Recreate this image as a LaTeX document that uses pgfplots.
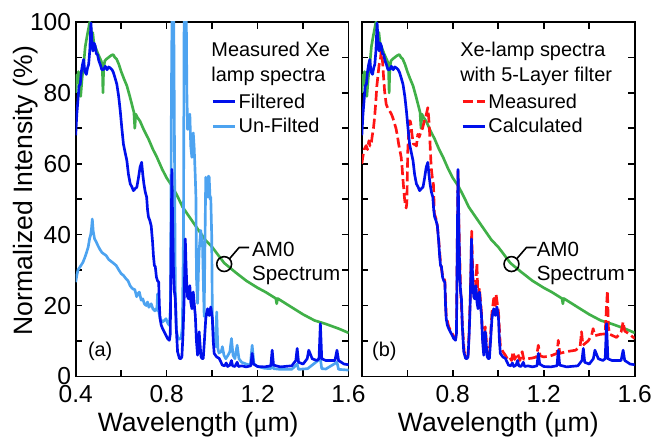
\documentclass[border=0pt]{standalone}
\usepackage{fontspec}
\setmainfont{Liberation Sans}
\newfontfamily\serifmu{Liberation Serif}
\usepackage{pgfplots}
\usepackage{pgfplotstable}
\pgfplotsset{compat=1.18}

\definecolor{amgreen}{RGB}{64,176,72}
\definecolor{filtblue}{RGB}{0,16,235}
\definecolor{unfblue}{RGB}{77,163,240}
\definecolor{measred}{RGB}{255,20,20}

% AM0 reference spectrum (same in both panels)
\pgfplotstableread{
x y
0.400 80
0.404 85
0.408 83
0.412 86
0.417 80
0.422 79
0.428 84
0.435 88
0.442 93
0.450 96
0.456 98
0.462 100
0.466 99
0.470 96
0.475 97
0.480 94
0.486 93
0.492 92
0.498 91
0.505 90
0.512 89
0.517 88
0.520 80
0.523 87
0.528 89
0.535 89.5
0.545 90
0.555 90.5
0.565 90.8
0.572 90
0.580 89.5
0.590 88
0.600 86
0.612 84
0.625 82
0.638 79
0.650 76
0.656 74.5
0.660 70
0.664 74
0.672 73
0.683 72
0.700 69.5
0.720 67
0.740 64
0.756 62
0.780 58.5
0.800 56
0.826 53.5
0.850 50.5
0.870 47.8
0.900 45
0.943 41
0.970 38.5
1.000 36.5
1.053 32
1.100 29.5
1.150 27
1.200 25
1.235 23.8
1.280 22
1.284 20.5
1.288 22
1.350 19.5
1.400 17.5
1.450 15.8
1.500 14.8
1.556 13.5
1.600 12.3
}\amzero

% filtered lamp spectrum (also the calculated curve of panel b)
\pgfplotstableread{
x y
0.400 68
0.405 74
0.410 78
0.415 82
0.420 82.4
0.425 86
0.430 88
0.435 89.4
0.440 86
0.447 85.2
0.452 87
0.457 88
0.462 92
0.467 99.7
0.471 95
0.476 91.8
0.481 94
0.486 93.2
0.491 91
0.496 90.8
0.502 89
0.508 88
0.515 86.5
0.523 86.6
0.530 87.5
0.538 86.5
0.545 87.3
0.552 87
0.560 86.5
0.566 85.7
0.574 84
0.581 82.4
0.589 79
0.596 74.9
0.603 70
0.610 65.5
0.618 63
0.625 60.9
0.632 57
0.640 54.3
0.647 53.5
0.654 52.4
0.662 53
0.669 53.4
0.676 56
0.683 59
0.690 60.4
0.695 57
0.700 54.3
0.706 52
0.712 50.6
0.716 47
0.720 45
0.726 44
0.732 42.5
0.738 38
0.742 34
0.746 31.3
0.750 31
0.755 28
0.760 27
0.765 26.6
0.768 20
0.771 16.3
0.776 14.5
0.782 13.5
0.790 12.5
0.798 11.5
0.804 10.7
0.812 10.2
0.816 12
0.820 40
0.823 58.4
0.826 45
0.830 30
0.834 24
0.838 21.9
0.842 14
0.848 7
0.856 5.1
0.862 5
0.867 5.5
0.872 12
0.877 21.9
0.882 38.8
0.885 32
0.888 26.7
0.892 22.5
0.896 21.9
0.902 25.6
0.906 21
0.911 19.1
0.917 23.8
0.922 20
0.926 17.2
0.931 10
0.936 6
0.940 9
0.943 12.6
0.947 9
0.951 5.6
0.956 5
0.961 5.1
0.966 10
0.972 16.3
0.976 18
0.980 19.1
0.987 17.2
0.994 19.6
1.001 16.3
1.005 10
1.009 6.5
1.020 5.5
1.031 5.1
1.045 3.2
1.055 3
1.062 3.8
1.068 2.8
1.078 3.2
1.085 4.5
1.090 3
1.100 2.8
1.110 4
1.116 2.8
1.130 3
1.150 2.7
1.170 3
1.176 6.5
1.182 3.5
1.200 2.8
1.230 2.7
1.258 3
1.264 7.4
1.270 3.2
1.300 2.7
1.350 3
1.368 4.5
1.374 7.9
1.380 4
1.400 3.5
1.418 5
1.425 7.4
1.440 5
1.460 4.5
1.470 5
1.476 14.9
1.482 5
1.500 4.5
1.540 4.5
1.549 7.4
1.556 4.5
1.580 3.5
1.600 3.3
}\filtered

% un-filtered lamp spectrum
\pgfplotstableread{
x y
0.400 26.6
0.405 28.5
0.410 30
0.420 31
0.432 32.2
0.440 33.5
0.448 35
0.455 36.5
0.461 38.8
0.466 40
0.470 42
0.473 44.4
0.477 41
0.483 38.8
0.490 38
0.497 37
0.505 36
0.515 35
0.525 34.5
0.534 34.1
0.545 33
0.555 32.5
0.565 32
0.578 31.3
0.590 30
0.600 29
0.610 28.5
0.622 27.5
0.630 27
0.640 25.5
0.651 24.7
0.660 24.5
0.668 22.5
0.675 23.5
0.680 23.8
0.688 21.5
0.695 21.9
0.702 20.5
0.710 20
0.716 21
0.722 19.5
0.732 20.5
0.740 19
0.748 18.5
0.753 19.1
0.757 18.6
0.760 23.3
0.764 19
0.768 17.2
0.775 16
0.782 15.4
0.790 15.8
0.797 16.3
0.805 15
0.812 14.4
0.817 20
0.821 80
0.824 105
0.831 105
0.834 70
0.838 25
0.843 13
0.850 10.7
0.857 10.5
0.864 11
0.869 14
0.874 40
0.877 105
0.886 105
0.889 80
0.892 69.7
0.896 70.2
0.902 74
0.906 65
0.911 61.8
0.917 68.7
0.921 64.6
0.926 56.2
0.929 50
0.931 28.1
0.936 20.6
0.940 30
0.943 35.6
0.950 41.2
0.958 36.5
0.962 25
0.965 16.9
0.968 35
0.972 56.2
0.976 51
0.980 50.6
0.984 56.5
0.987 56.2
0.991 50
0.994 50.6
0.998 40
1.001 16.9
1.005 12
1.009 11.2
1.016 8.4
1.020 18.2
1.025 8
1.030 6.6
1.040 7
1.045 8.4
1.052 6
1.060 5
1.070 6
1.078 7
1.085 10.7
1.092 6
1.100 5
1.110 8.8
1.118 5
1.130 4
1.150 3.5
1.168 3.2
1.176 8.8
1.184 3.5
1.200 2.8
1.230 2.3
1.258 2.2
1.264 4
1.270 2.2
1.300 2
1.350 2
1.374 3.5
1.380 2
1.420 2.2
1.476 5
1.482 2.2
1.500 2.1
1.549 4
1.556 2
1.600 1.8
}\unfiltered

% measured spectrum with 5-layer filter
\pgfplotstableread{
x y
0.400 60
0.404 61.8
0.410 64
0.419 65.1
0.425 64
0.431 66.5
0.436 65
0.440 65
0.446 68
0.451 70
0.456 73
0.462 78
0.466 82
0.470 84.3
0.476 88
0.481 89
0.485 91.8
0.489 90
0.492 88
0.496 84
0.500 80.5
0.507 76.8
0.515 75.5
0.522 74.9
0.530 74
0.536 73
0.543 71.5
0.550 70
0.556 68
0.562 65.5
0.568 63.5
0.573 61.8
0.577 59
0.580 56.2
0.584 53
0.587 50.6
0.591 48.5
0.595 47.5
0.598 49
0.602 63.7
0.606 69
0.609 72.1
0.613 72
0.616 71
0.621 68
0.627 65.5
0.633 65.5
0.640 65
0.646 68.3
0.652 67.5
0.660 69
0.667 70
0.675 72.1
0.682 73.5
0.690 75.8
0.694 73
0.697 70.2
0.701 64
0.705 59
0.710 56
0.715 54
0.719 45.9
0.726 44.5
0.732 42.5
0.738 38.5
0.746 32
0.755 28.5
0.765 27
0.771 17
0.782 14
0.798 12
0.812 10.5
0.816 12.5
0.820 40
0.823 58
0.826 45
0.834 25
0.842 14.5
0.850 7
0.860 5.5
0.867 6
0.872 13
0.877 23
0.883 41
0.888 28
0.896 23
0.902 27
0.906 32
0.911 21
0.917 25
0.926 18
0.934 8
0.943 14
0.951 7
0.961 6.5
0.972 18
0.980 22
0.987 20
0.990 23.3
1.001 18
1.009 8.5
1.020 7
1.031 6
1.040 5
1.050 5.5
1.058 4.5
1.065 7
1.072 4.8
1.085 6.5
1.095 4.5
1.105 7
1.112 4.8
1.130 5
1.150 5.2
1.168 5.5
1.176 8.8
1.184 5.8
1.200 5.5
1.230 5.8
1.258 6.5
1.264 10.2
1.270 6.5
1.300 7
1.340 7.4
1.360 8.5
1.366 12.6
1.372 8.8
1.395 10
1.410 11.5
1.417 13.5
1.425 11.5
1.450 11.9
1.470 12
1.476 20
1.480 24.2
1.484 14
1.490 11.9
1.520 11
1.540 12.5
1.549 15.4
1.556 12.8
1.575 12
1.600 10.7
}\measured

\pgfplotsset{
  panel/.style={
    scale only axis, width=205.5pt, height=267pt,
    xmin=0.4, xmax=1.6, ymin=0, ymax=100,
    xtick={0.4,0.8,1.2,1.6}, minor xtick={0.6,1.0,1.4},
    ytick={0,20,...,100}, minor ytick={10,30,...,90},
    tick align=inside, xtick pos=both, ytick pos=both,
    major tick length=5pt, minor tick length=5pt,
    every tick/.append style={black, line width=1.2pt},
    axis line style={line width=1.3pt},
    tick label style={font=\fontsize{18.5}{22}\selectfont},
    xticklabel style={yshift=-3pt},
    label style={font=\fontsize{20}{24}\selectfont},
    /pgf/number format/assume math mode=true,
    xlabel={Wavelength ({\serifmu μ}m)},
    legend style={draw=none, fill=none, inner sep=0pt,
      font=\fontsize{15}{18}\selectfont, row sep=2pt},
    legend cell align=left,
    legend image code/.code={\draw[#1] (0pt,0pt) -- (16.5pt,0pt);},
  },
  curve/.style={line width=2pt, line join=round},
}

\begin{document}
\begin{tikzpicture}
% panel (a)
\begin{axis}[panel,
  xticklabels={0.4,0.8,1.2,1.6},
  ylabel={Normalized Intensity (\%)},
  ylabel style={at={(axis description cs:-0.23,0.524)}, anchor=north, inner sep=0pt},
  xlabel style={at={(axis description cs:0.449,-0.1545)}, anchor=base},
  reverse legend,
  legend style={at={(axis cs:0.996,80.6)}, anchor=north west},
]
\addplot[curve, amgreen, forget plot] table[x=x, y=y] {\amzero};
\addplot[curve, unfblue] table[x=x, y=y] {\unfiltered};
\addlegendentry{Un-Filted}
\addplot[curve, filtblue] table[x=x, y=y] {\filtered};
\addlegendentry{Filtered}
\node[anchor=base west, inner sep=0pt, font=\fontsize{15}{18}\selectfont] at (axis cs:0.996,90.3) {Measured Xe};
\node[anchor=base west, inner sep=0pt, font=\fontsize{15}{18}\selectfont] at (axis cs:0.996,83.2) {lamp spectra};
\draw[line width=1.2pt] (axis cs:1.053,31.7) circle[radius=5.6pt];
\draw[line width=1.2pt] ([shift={(45:5.6pt)}]axis cs:1.053,31.7) -- ++(7.3pt,8.5pt) -- ++(7.5pt,0pt);
\node[anchor=base west, inner sep=0pt, font=\fontsize{15.5}{18}\selectfont] at (axis cs:1.175,33.7) {AM0};
\node[anchor=base west, inner sep=0pt, font=\fontsize{15.5}{18}\selectfont] at (axis cs:1.175,27.05) {Spectrum};
\node[anchor=base west, inner sep=0pt, font=\fontsize{15}{18}\selectfont] at (axis cs:0.453,5.5) {(a)};
\end{axis}

% panel (b)
\begin{axis}[panel, at={(215.5pt,0pt)},
  xticklabels={,0.8,1.2,1.6},
  yticklabels={},
  xlabel style={at={(axis description cs:0.5,-0.1545)}, anchor=base},
  legend style={at={(axis cs:0.836,80.6)}, anchor=north west},
]
\addplot[curve, amgreen, forget plot] table[x=x, y=y] {\amzero};
\addplot[curve, measred, dash pattern=on 7.5pt off 3pt] table[x=x, y=y] {\measured};
\addlegendentry{Measured}
\addplot[curve, filtblue] table[x=x, y=y] {\filtered};
\addlegendentry{Calculated}
\node[anchor=base west, inner sep=0pt, font=\fontsize{15}{18}\selectfont] at (axis cs:0.832,90.3) {Xe-lamp spectra};
\node[anchor=base west, inner sep=0pt, font=\fontsize{15}{18}\selectfont] at (axis cs:0.832,83.2) {with 5-Layer filter};
\draw[line width=1.2pt] (axis cs:1.058,31.7) circle[radius=5.6pt];
\draw[line width=1.2pt] ([shift={(45:5.6pt)}]axis cs:1.058,31.7) -- ++(7.3pt,8.5pt) -- ++(7.5pt,0pt);
\node[anchor=base west, inner sep=0pt, font=\fontsize{15.5}{18}\selectfont] at (axis cs:1.168,33.7) {AM0};
\node[anchor=base west, inner sep=0pt, font=\fontsize{15.5}{18}\selectfont] at (axis cs:1.168,27.05) {Spectrum};
\node[anchor=base west, inner sep=0pt, font=\fontsize{15}{18}\selectfont] at (axis cs:0.444,5.5) {(b)};
\end{axis}

\pgfresetboundingbox
\path[use as bounding box] (-57pt,-47.25pt) rectangle (434pt,283.5pt);
\end{tikzpicture}
\end{document}
